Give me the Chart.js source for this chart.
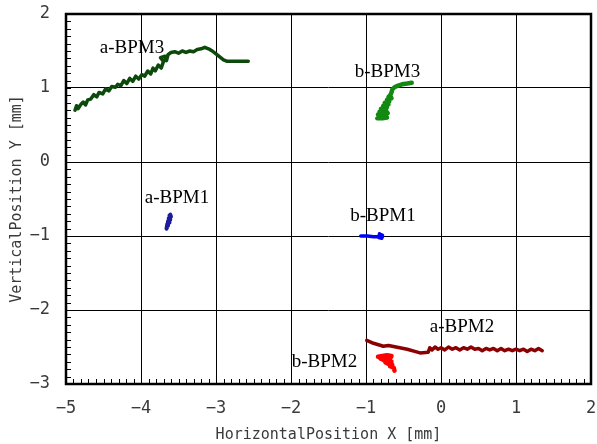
<!DOCTYPE html>
<html>
<head>
<meta charset="utf-8">
<script src="https://cdn.jsdelivr.net/npm/chart.js@4"></script>
<style>
  html, body { margin: 0; padding: 0; background: #fff; }
  #wrap { width: 597px; height: 444px; }
</style>
</head>
<body>
<div id="wrap"><canvas id="orbit"></canvas></div>
<script>
// traces, [x mm, y mm]
const aBpm3 = [
  [-4.88, 0.70], [-4.86, 0.76], [-4.84, 0.72], [-4.80, 0.78], [-4.77, 0.81], [-4.74, 0.77],
  [-4.71, 0.84], [-4.67, 0.85], [-4.63, 0.91], [-4.59, 0.88], [-4.56, 0.94], [-4.51, 0.92],
  [-4.47, 0.99], [-4.43, 0.96], [-4.39, 1.02], [-4.34, 1.01], [-4.31, 1.05], [-4.27, 1.03],
  [-4.23, 1.10], [-4.19, 1.06], [-4.15, 1.13], [-4.11, 1.09], [-4.07, 1.16], [-4.03, 1.12],
  [-3.99, 1.18], [-3.95, 1.16], [-3.91, 1.23], [-3.87, 1.19], [-3.84, 1.27], [-3.81, 1.23],
  [-3.77, 1.31], [-3.73, 1.27], [-3.70, 1.36], [-3.74, 1.41], [-3.68, 1.43], [-3.66, 1.37],
  [-3.64, 1.45], [-3.60, 1.48], [-3.55, 1.49], [-3.50, 1.47], [-3.45, 1.50], [-3.40, 1.48],
  [-3.35, 1.50], [-3.30, 1.49], [-3.25, 1.52], [-3.20, 1.53], [-3.15, 1.55], [-3.10, 1.53],
  [-3.05, 1.50], [-3.00, 1.46], [-2.95, 1.42], [-2.90, 1.38], [-2.85, 1.36], [-2.75, 1.36],
  [-2.65, 1.36], [-2.57, 1.36],
];
const bBpm3 = [
  [-0.39, 1.07], [-0.45, 1.06], [-0.52, 1.05], [-0.58, 1.03], [-0.62, 1.01], [-0.65, 0.98],
  [-0.66, 0.94], [-0.68, 0.90], [-0.66, 0.86], [-0.70, 0.88], [-0.69, 0.82], [-0.72, 0.84],
  [-0.70, 0.78], [-0.75, 0.80], [-0.72, 0.74], [-0.77, 0.76], [-0.73, 0.70], [-0.80, 0.72],
  [-0.74, 0.66], [-0.82, 0.68], [-0.76, 0.62], [-0.84, 0.64], [-0.80, 0.60], [-0.85, 0.59],
  [-0.78, 0.59], [-0.72, 0.60], [-0.75, 0.64], [-0.71, 0.66],
];
const aBpm1 = [
  [-3.61, -0.71], [-3.60, -0.74], [-3.62, -0.72], [-3.61, -0.78], [-3.63, -0.76],
  [-3.62, -0.82], [-3.64, -0.80], [-3.64, -0.86], [-3.66, -0.90], [-3.65, -0.84],
  [-3.63, -0.80],
];
const bBpm1 = [
  [-1.07, -1.00], [-0.98, -1.00], [-0.90, -1.01], [-0.84, -1.01], [-0.80, -0.98],
  [-0.78, -0.99], [-0.79, -1.03], [-0.83, -1.02], [-0.82, -0.97], [-0.78, -1.01],
];
const aBpm2 = [
  [-0.99, -2.41], [-0.90, -2.45], [-0.80, -2.48], [-0.77, -2.49], [-0.70, -2.48], [-0.65, -2.49],
  [-0.55, -2.51], [-0.45, -2.53], [-0.35, -2.56], [-0.28, -2.58], [-0.17, -2.57], [-0.15, -2.51],
  [-0.12, -2.54], [-0.08, -2.50], [-0.04, -2.53], [0.00, -2.51], [0.05, -2.54], [0.10, -2.50],
  [0.15, -2.53], [0.20, -2.51], [0.25, -2.54], [0.30, -2.51], [0.35, -2.53], [0.40, -2.50],
  [0.45, -2.53], [0.50, -2.52], [0.55, -2.55], [0.60, -2.52], [0.65, -2.54], [0.70, -2.52],
  [0.75, -2.55], [0.80, -2.52], [0.85, -2.55], [0.90, -2.53], [0.95, -2.55], [1.00, -2.53],
  [1.05, -2.55], [1.10, -2.53], [1.15, -2.56], [1.20, -2.53], [1.25, -2.55], [1.30, -2.52],
  [1.35, -2.55],
];
const bBpm2 = [
  [-0.84, -2.63], [-0.78, -2.62], [-0.72, -2.61], [-0.66, -2.62], [-0.68, -2.66], [-0.80, -2.66],
  [-0.82, -2.64], [-0.76, -2.68], [-0.70, -2.69], [-0.66, -2.70], [-0.74, -2.71], [-0.70, -2.73],
  [-0.65, -2.74], [-0.68, -2.76], [-0.63, -2.78], [-0.62, -2.82],
];

// label text and where it starts (data coords, left/baseline)
const labelNames = ['a-BPM3', 'b-BPM3', 'a-BPM1', 'b-BPM1', 'a-BPM2', 'b-BPM2'];
const labelSpots = [[-4.55, 1.47], [-1.15, 1.15], [-3.95, -0.55], [-1.21, -0.80], [-0.15, -2.30], [-1.99, -2.77]];

const xRange = [-5, 2];
const yRange = [-3, 2];

const monoFont = "'DejaVu Sans Mono', monospace";
const textColor = '#3a3a3a';

const toXY = (pts) => pts.map(([x, y]) => ({ x, y }));
const minus = (v) => String(v).replace('-', '\u2212');

const trace = (label, pts, color, width = 3.5) => ({
  label,
  data: toXY(pts),
  showLine: true,
  borderColor: color,
  backgroundColor: color,
  borderWidth: width,
  borderJoinStyle: 'round',
  borderCapStyle: 'round',
  pointRadius: 0,
  tension: 0,
});

const frame = {
  id: 'frame',
  afterDraw(chart) {
    const { ctx, chartArea: a, scales } = chart;
    ctx.save();
    ctx.strokeStyle = '#000';
    ctx.lineWidth = 1;
    // inward minor ticks every 0.1 on the bottom and left edges
    ctx.beginPath();
    for (let i = xRange[0] * 10; i <= xRange[1] * 10; i++) {
      const px = Math.round(scales.x.getPixelForValue(i / 10)) + 0.5;
      ctx.moveTo(px, a.bottom);
      ctx.lineTo(px, a.bottom - 5);
    }
    for (let i = yRange[0] * 10; i <= yRange[1] * 10; i++) {
      const py = Math.round(scales.y.getPixelForValue(i / 10)) + 0.5;
      ctx.moveTo(a.left, py);
      ctx.lineTo(a.left + 5, py);
    }
    ctx.stroke();
    ctx.lineWidth = 2.5;
    ctx.strokeRect(a.left, a.top, a.right - a.left, a.bottom - a.top);

    ctx.fillStyle = '#000';
    ctx.font = "19px 'Liberation Serif', serif";
    ctx.textAlign = 'left';
    ctx.textBaseline = 'alphabetic';
    labelNames.forEach((name, i) => {
      const [x, y] = labelSpots[i];
      ctx.fillText(name, scales.x.getPixelForValue(x), scales.y.getPixelForValue(y));
    });
    ctx.restore();
  },
};

new Chart(document.getElementById('orbit'), {
  type: 'scatter',
  data: {
    datasets: [
      trace('a-BPM3', aBpm3, '#0b4a0b'),
      trace('b-BPM3', bBpm3, '#128a12', 4.5),
      trace('a-BPM1', aBpm1, '#1c1c9c', 4),
      trace('b-BPM1', bBpm1, '#0000ff'),
      trace('a-BPM2', aBpm2, '#8b0000'),
      trace('b-BPM2', bBpm2, '#ff0000', 4.5),
    ],
  },
  options: {
    responsive: true,
    maintainAspectRatio: false,
    animation: false,
    layout: { padding: { top: 14, right: 6, left: 0, bottom: 0 } },
    plugins: {
      legend: { display: false },
      tooltip: { enabled: false },
    },
    scales: {
      x: {
        type: 'linear',
        min: xRange[0],
        max: xRange[1],
        afterFit: (s) => {
          s.height = 60;
          s.paddingLeft = 0;
          s.paddingRight = 0;
        },
        border: { display: false },
        grid: { color: '#000', lineWidth: 1, drawTicks: false },
        ticks: {
          stepSize: 1,
          padding: 14,
          color: textColor,
          font: { family: monoFont, size: 17 },
          callback: minus,
        },
        title: {
          display: true,
          text: 'HorizontalPosition X [mm]',
          color: textColor,
          font: { family: monoFont, size: 15 },
          padding: { top: 0, bottom: 0 },
        },
      },
      y: {
        type: 'linear',
        min: yRange[0],
        max: yRange[1],
        afterFit: (s) => {
          s.width = 66;
          s.paddingTop = 0;
          s.paddingBottom = 0;
        },
        border: { display: false },
        grid: { color: '#000', lineWidth: 1, drawTicks: false },
        ticks: {
          stepSize: 1,
          padding: 16,
          color: textColor,
          font: { family: monoFont, size: 17 },
          callback: minus,
        },
        title: {
          display: true,
          text: 'VerticalPosition Y [mm]',
          color: textColor,
          font: { family: monoFont, size: 15 },
          padding: { top: 8, bottom: 0 },
        },
      },
    },
  },
  plugins: [frame],
});
</script>
</body>
</html>
